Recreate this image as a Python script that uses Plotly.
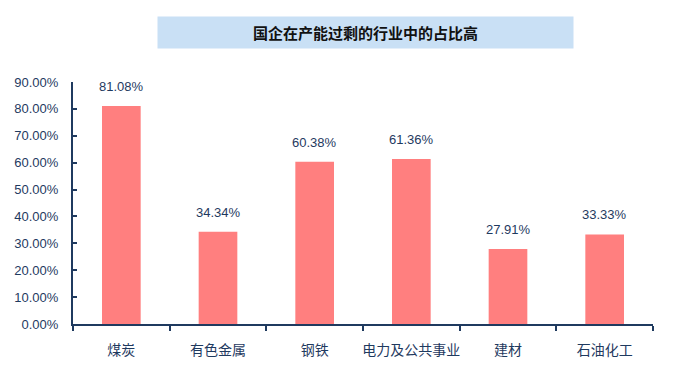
import plotly.graph_objects as go

categories = ["煤炭", "有色金属", "钢铁", "电力及公共事业", "建材", "石油化工"]
values = [0.8108, 0.3434, 0.6038, 0.6136, 0.2791, 0.3333]
title_text = "国企在产能过剩的行业中的占比高"
y_ticks = [i / 10 for i in range(10)]
y_tick_labels = [f"{v*100:.2f}%" for v in y_ticks]

navy = "#1F3A5F"
font_lat = "Liberation Sans, Noto Sans CJK SC, sans-serif"

fig = go.Figure(go.Bar(
    x=categories, y=values,
    marker=dict(color="#FF7F7F", line=dict(width=0)),
    width=0.4,
    cliponaxis=False,
))

for c, v in zip(categories, values):
    fig.add_annotation(
        x=c, y=v, text=f"{v*100:.2f}%", showarrow=False,
        yanchor="bottom", yshift=10,
        font=dict(family=font_lat, size=13, color=navy),
    )

fig.update_layout(
    width=692, height=374,
    margin=dict(l=73, r=39, t=82, b=50, autoexpand=False),
    paper_bgcolor="white", plot_bgcolor="white",
    showlegend=False,
    bargap=0.6,
    font=dict(family=font_lat, color=navy),
)
fig.update_yaxes(
    range=[0, 0.9], tickvals=y_ticks, ticktext=y_tick_labels,
    showgrid=False, zeroline=False, showline=True, linecolor=navy, linewidth=2,
    ticks="inside", ticklen=4, tickcolor=navy, tickwidth=2,
    tickfont=dict(family=font_lat, size=13, color=navy),
    ticklabelstandoff=10, automargin=False,
)
fig.update_xaxes(
    showgrid=False, showline=True, linecolor=navy, linewidth=2,
    ticks="outside", tickson="boundaries", ticklen=5, tickcolor=navy, tickwidth=2,
    tickangle=0,
    tickfont=dict(family="Noto Sans CJK SC, sans-serif", size=14, color=navy),
    ticklabelstandoff=12, automargin=False,
)
fig.add_annotation(
    xref="paper", yref="paper", x=0.505, y=1.2045, xanchor="center", yanchor="middle",
    text="<b>" + title_text + "</b>", showarrow=False, bgcolor="#C9E0F5",
    width=413, height=29,
    font=dict(family="Noto Sans CJK SC, sans-serif", size=15, color="#111111"),
)
fig.write_html("out.html")
